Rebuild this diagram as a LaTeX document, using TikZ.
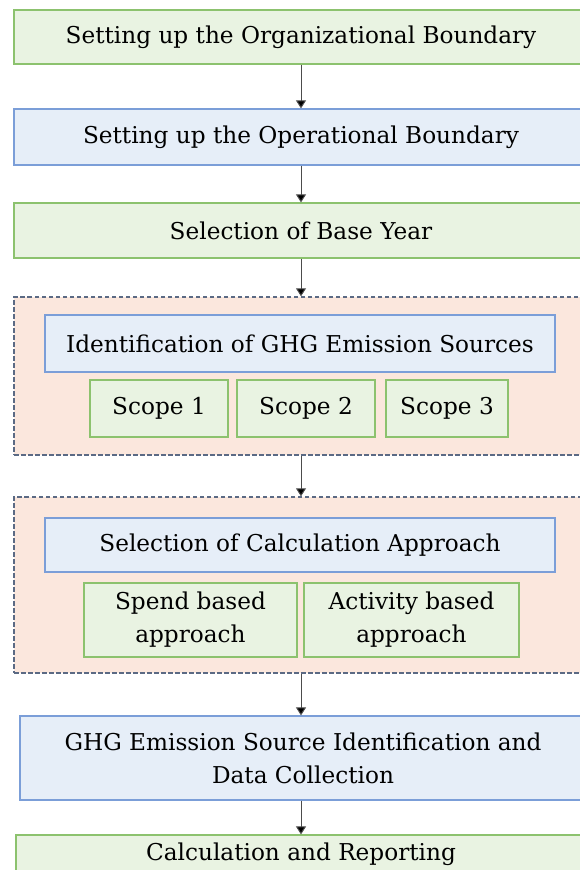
\documentclass[tikz,border=0pt]{standalone}
\usepackage{fontspec}
\setmainfont{DejaVu Serif}
\usetikzlibrary{arrows.meta}

\definecolor{greenfill}{HTML}{E9F3E2}
\definecolor{greenline}{HTML}{8CC26E}
\definecolor{bluefill}{HTML}{E6EEF8}
\definecolor{blueline}{HTML}{7B9ED8}
\definecolor{groupfill}{HTML}{FBE7DD}
\definecolor{groupline}{HTML}{5B6A84}

\begin{document}
\begin{tikzpicture}[x=1pt, y=-1pt, font=\fontsize{23.2}{33}\selectfont,
	greenbox/.style={draw=greenline, fill=greenfill, line width=1.2pt, align=center, inner sep=0pt},
	bluebox/.style={draw=blueline, fill=bluefill, line width=1.2pt, align=center, inner sep=0pt},
	groupbox/.style={draw=groupline, fill=groupfill, dash pattern=on 4.5pt off 2.5pt, line width=1.4pt, inner sep=0pt},
	flow/.style={draw=black!70, line width=1pt, -{Triangle[length=8pt,width=10pt,fill=black]}}]

		\clip (0,0) rectangle (580,870);
		\useasboundingbox (0,0) rectangle (580,870);

		% Define the nodes
		\node[greenbox, minimum width=574, minimum height=54] (orgboundary) at (301,37) {Setting up the Organizational Boundary};
		\node[bluebox, minimum width=574, minimum height=56] (opboundary) at (301,137) {Setting up the Operational Boundary};
		\node[greenbox, minimum width=574, minimum height=55] (baseyear) at (301,230.5) {Selection of Base Year};

		\node[groupbox, minimum width=574, minimum height=158] (sourcegroup) at (301,376) {};
		\node[bluebox, minimum width=510, minimum height=57] (ghgsources) at (300,343.5) {Identification of GHG Emission Sources};
		\node[greenbox, minimum width=138, minimum height=57] (scope1) at (159,408.5) {Scope 1};
		\node[greenbox, minimum width=138, minimum height=57] (scope2) at (306,408.5) {Scope 2};
		\node[greenbox, minimum width=122, minimum height=57] (scope3) at (447,408.5) {Scope 3};

		\node[groupbox, minimum width=574, minimum height=176] (approachgroup) at (301,585) {};
		\node[bluebox, minimum width=510, minimum height=54] (calcapproach) at (300,545) {Selection of Calculation Approach};
		\node[greenbox, minimum width=213, minimum height=74] (spend) at (190.5,620) {Spend based\\approach};
		\node[greenbox, minimum width=215, minimum height=74] (activity) at (411.5,620) {Activity based\\approach};

		\node[bluebox, minimum width=566, minimum height=84] (datacollection) at (303,758) {GHG Emission Source Identification and\\Data Collection};
		\node[greenbox, minimum width=570, minimum height=38] (reporting) at (301,854) {Calculation and Reporting};

		% Define the edges
		\draw[flow] (orgboundary) -- (opboundary);
		\draw[flow] (opboundary) -- (baseyear);
		\draw[flow] (baseyear) -- (sourcegroup);
		\draw[flow] (sourcegroup) -- (approachgroup);
		\draw[flow] (approachgroup) -- (approachgroup |- datacollection.north);
		\draw[flow] (approachgroup |- datacollection.south) -- (approachgroup |- reporting.north);

	\end{tikzpicture}
\end{document}
